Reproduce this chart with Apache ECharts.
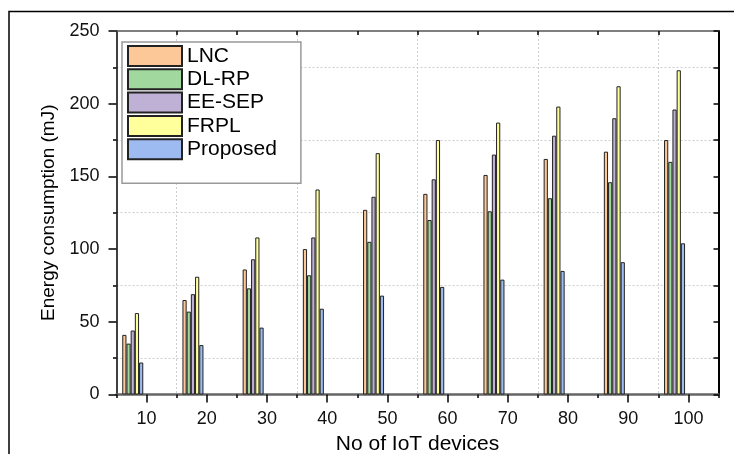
<!DOCTYPE html>
<html>
<head>
<meta charset="utf-8">
<script src="https://cdn.jsdelivr.net/npm/echarts@6/dist/echarts.min.js"></script>
<style>
  html, body { margin: 0; padding: 0; background: #fff; }
  #chart { width: 734px; height: 454px; }
</style>
</head>
<body>
<div id="chart"></div>
<script>
// device counts on the x axis
const devices = [10, 20, 30, 40, 50, 60, 70, 80, 90, 100];
const lnc = [41, 65, 86, 100, 127, 138, 151, 162, 167, 175];
const dlrp = [35, 57, 73, 82, 105, 120, 126, 135, 146, 160];
const eesep = [44, 69, 93, 108, 136, 148, 165, 178, 190, 196];
const frpl = [56, 81, 108, 141, 166, 175, 187, 198, 212, 223];
const proposed = [22, 34, 46, 59, 68, 74, 79, 85, 91, 104];
const yTicks = [0, 50, 100, 150, 200, 250];
const minorX = [5, 15, 25, 35, 45, 55, 65, 75, 85, 95, 105];
const topX = [15, 25, 35, 45, 55, 65, 75, 85, 95];

const font = 'Liberation Sans, Arial, sans-serif';
const shift = 2.3; // bars sit left of their tick

// main plot box
const L = 116.5, R = 15.5, T = 31, B = 59.5;
const W = 734 - L - R, H = 454 - T - B;
const xPx = W / 100, yPx = H / 250; // px per unit (x 5..105, y 0..250)

const chart = echarts.init(document.getElementById('chart'));

function bars(name, values, color) {
  return {
    name: name,
    type: 'bar',
    xAxisIndex: 3,
    yAxisIndex: 0,
    barWidth: 4.2,
    barGap: '0%',
    itemStyle: { color: color, borderColor: '#222', borderWidth: 1 },
    data: devices.map((d, i) => [d, values[i]]),
  };
}

const dotted = { color: '#cfcfcf', type: [2, 2], width: 1 };

const option = {
  animation: false,
  backgroundColor: '#fff',
  textStyle: { fontFamily: font },
  grid: [
    { left: L, right: R, top: T, bottom: B, outerBoundsMode: 'none' },
    // vertical dotted lines at x = 15, 35, ... 95
    { left: L + 10 * xPx, right: R + 10 * xPx, top: T, bottom: B, outerBoundsMode: 'none' },
    // horizontal dotted lines at y = 25, 75, ... 225
    { left: L, right: R, top: T + 25 * yPx, bottom: B + 25 * yPx, outerBoundsMode: 'none' },
  ],
  graphic: [{
    type: 'rect',
    shape: { x: 9, y: 11.5, width: 760, height: 480 },
    style: { fill: 'none', stroke: '#000', lineWidth: 1.5 },
    silent: true,
  }],
  legend: {
    orient: 'vertical',
    left: 122,
    top: 42,
    data: ['LNC', 'DL-RP', 'EE-SEP', 'FRPL', 'Proposed'],
    icon: 'rect',
    itemWidth: 54,
    itemHeight: 20,
    itemGap: 1.3,
    padding: [3, 24, 23, 5],
    borderColor: '#999',
    borderWidth: 1.5,
    backgroundColor: '#fff',
    textStyle: { fontSize: 21, color: '#000', fontFamily: font },
  },
  xAxis: [
    {
      type: 'value',
      min: 5,
      max: 105,
      position: 'bottom',
      name: 'No of IoT devices',
      nameLocation: 'middle',
      nameGap: 38,
      nameTextStyle: { fontSize: 21, color: '#000', fontFamily: font },
      axisLine: { lineStyle: { color: '#666', width: 2.5 } },
      axisTick: { customValues: devices, length: 8, lineStyle: { color: '#000', width: 1.5 } },
      axisLabel: { customValues: devices, fontSize: 18, color: '#111', margin: 16 },
      splitLine: { show: false },
    },
    {
      type: 'value',
      min: 5,
      max: 105,
      position: 'bottom',
      axisLine: { show: false },
      axisTick: { customValues: minorX, length: 3.5, lineStyle: { color: '#000', width: 1.5 } },
      axisLabel: { show: false },
      splitLine: { show: false },
    },
    {
      type: 'value',
      min: 5,
      max: 105,
      position: 'top',
      axisLine: { lineStyle: { color: '#555', width: 1.5 } },
      axisTick: { customValues: topX, inside: true, length: 4, lineStyle: { color: '#000', width: 1.5 } },
      axisLabel: { show: false },
      splitLine: { show: false },
    },
    {
      type: 'value',
      min: 5 + shift,
      max: 105 + shift,
      show: false,
      splitLine: { show: false },
    },
    {
      gridIndex: 1,
      type: 'value',
      min: 0,
      max: 80,
      interval: 20,
      axisLine: { show: false },
      axisTick: { show: false },
      axisLabel: { show: false },
      splitLine: { show: true, lineStyle: dotted },
    },
    {
      gridIndex: 2,
      type: 'value',
      min: 0,
      max: 100,
      axisLine: { show: false },
      axisTick: { show: false },
      axisLabel: { show: false },
      splitLine: { show: false },
    },
  ],
  yAxis: [
    {
      type: 'value',
      min: 0,
      max: 250,
      interval: 50,
      name: 'Energy consumption (mJ)',
      nameLocation: 'middle',
      nameGap: 56,
      nameTextStyle: { fontSize: 19, color: '#000', fontFamily: font },
      axisLine: { show: true, lineStyle: { color: '#000', width: 1.5 } },
      axisTick: { customValues: yTicks, length: 8, lineStyle: { color: '#000', width: 1.5 } },
      minorTick: { show: true, splitNumber: 2, length: 3.5, lineStyle: { color: '#000', width: 1.5 } },
      axisLabel: { customValues: yTicks, fontSize: 18, color: '#111', margin: 17 },
      splitLine: { show: false },
    },
    {
      type: 'value',
      min: 0,
      max: 250,
      interval: 25,
      position: 'right',
      axisLine: { show: true, lineStyle: { color: '#000', width: 2 } },
      axisTick: { inside: true, length: 5, lineStyle: { color: '#000', width: 1.5 } },
      axisLabel: { show: false },
      splitLine: { show: false },
    },
    {
      gridIndex: 1,
      type: 'value',
      min: 0,
      max: 100,
      axisLine: { show: false },
      axisTick: { show: false },
      axisLabel: { show: false },
      splitLine: { show: false },
    },
    {
      gridIndex: 2,
      type: 'value',
      min: 0,
      max: 200,
      interval: 50,
      axisLine: { show: false },
      axisTick: { show: false },
      axisLabel: { show: false },
      splitLine: { show: true, lineStyle: dotted },
    },
  ],
  series: [
    bars('LNC', lnc, '#FDC897'),
    bars('DL-RP', dlrp, '#A0D89E'),
    bars('EE-SEP', eesep, '#BFB0D6'),
    bars('FRPL', frpl, '#FFFF9C'),
    bars('Proposed', proposed, '#9DBBF0'),
  ],
};

chart.setOption(option);
</script>
</body>
</html>
